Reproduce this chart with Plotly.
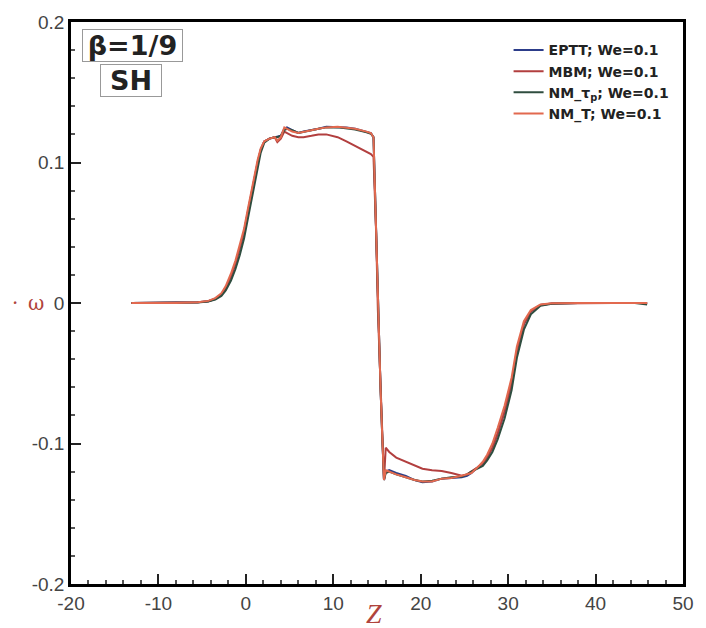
import plotly.graph_objects as go

# Axial coordinate Z (shared sample positions)
z = [-13.1, -8.0, -5.5, -4.3, -3.5, -2.8, -2.3, -1.7, -1.2, -0.7,
     -0.2, 0.2, 0.6, 1.0, 1.35, 1.7, 2.1, 2.7, 3.3, 3.6,
     4.0, 4.4, 4.7, 5.3, 6.0, 6.6, 7.5, 8.3, 9.2, 10.5,
     11.5, 12.5, 13.8, 14.3, 14.6, 14.9, 15.1, 15.4, 15.6, 15.8,
     16.0, 16.4, 17.2, 18.3, 19.3, 20.2, 21.3, 22.4, 23.5, 24.7,
     25.3, 25.8, 26.5, 27.1, 27.6, 28.2, 28.8, 29.6, 30.4, 31.0,
     31.8, 32.6, 33.7, 35.0, 38.0, 42.0, 44.5, 45.9]

eptt = [0.0, 0.0, 0.0005, 0.0012, 0.003, 0.006, 0.011, 0.019, 0.028, 0.039,
        0.051, 0.064, 0.077, 0.089, 0.100, 0.109, 0.115, 0.117, 0.118, 0.118,
        0.119, 0.124, 0.125, 0.123, 0.121, 0.122, 0.123, 0.124, 0.1255, 0.1255,
        0.125, 0.124, 0.122, 0.121, 0.118, 0.050, -0.005, -0.060, -0.095, -0.126,
        -0.120, -0.119, -0.121, -0.123, -0.126, -0.1275, -0.127, -0.125, -0.1245, -0.124,
        -0.123, -0.121, -0.117, -0.114, -0.110, -0.103, -0.093, -0.077, -0.057, -0.034,
        -0.015, -0.006, -0.0014, -0.0003, 0.0, 0.0, 0.0, 0.0]

mbm = [0.0, 0.0, 0.0005, 0.0012, 0.003, 0.006, 0.011, 0.019, 0.028, 0.039,
       0.051, 0.064, 0.077, 0.089, 0.100, 0.109, 0.115, 0.117, 0.118, 0.1145,
       0.117, 0.122, 0.121, 0.119, 0.118, 0.118, 0.119, 0.120, 0.120, 0.118,
       0.115, 0.112, 0.108, 0.106, 0.104, 0.050, -0.005, -0.060, -0.095, -0.126,
       -0.103, -0.106, -0.110, -0.113, -0.116, -0.118, -0.119, -0.1195, -0.121, -0.123,
       -0.122, -0.120, -0.117, -0.114, -0.110, -0.103, -0.093, -0.077, -0.057, -0.034,
       -0.015, -0.006, -0.0014, -0.0003, 0.0, 0.0, 0.0, 0.0]

nm_tau = [0.0, 0.0, 0.0004, 0.001, 0.0025, 0.005, 0.009, 0.016, 0.024, 0.034,
          0.046, 0.059, 0.072, 0.085, 0.097, 0.107, 0.114, 0.117, 0.118, 0.118,
          0.119, 0.123, 0.124, 0.123, 0.121, 0.122, 0.123, 0.124, 0.125, 0.125,
          0.1245, 0.1235, 0.1215, 0.1205, 0.118, 0.050, -0.005, -0.060, -0.095, -0.126,
          -0.121, -0.120, -0.122, -0.124, -0.126, -0.127, -0.1265, -0.125, -0.124, -0.1235,
          -0.122, -0.120, -0.118, -0.116, -0.112, -0.106, -0.097, -0.082, -0.062, -0.039,
          -0.019, -0.008, -0.002, -0.0005, 0.0, 0.0, 0.0, -0.001]

nm_t = [0.0, 0.0, 0.0006, 0.0015, 0.0035, 0.007, 0.012, 0.021, 0.030, 0.041,
        0.053, 0.066, 0.079, 0.091, 0.102, 0.110, 0.115, 0.117, 0.118, 0.1155,
        0.118, 0.125, 0.124, 0.122, 0.121, 0.122, 0.123, 0.124, 0.125, 0.1255,
        0.125, 0.124, 0.122, 0.121, 0.118, 0.050, -0.005, -0.060, -0.095, -0.126,
        -0.119, -0.120, -0.122, -0.124, -0.126, -0.127, -0.127, -0.125, -0.1245, -0.123,
        -0.122, -0.121, -0.117, -0.113, -0.108, -0.100, -0.089, -0.073, -0.053, -0.031,
        -0.013, -0.005, -0.001, -0.0002, 0.0, 0.0, 0.0, 0.0]

series_names = ["EPTT; We=0.1", "MBM; We=0.1", "NM_τ<sub>p</sub>; We=0.1", "NM_T; We=0.1"]
series_values = [eptt, mbm, nm_tau, nm_t]
series_colors = ["#2c3d8a", "#b23f3f", "#2f4d3f", "#e2694f"]

x_ticks = [-20, -10, 0, 10, 20, 30, 40, 50]
x_ticktext = ["-20", "-10", "0", "10", "20", "30", "40", "50"]
y_ticks = [-0.2, -0.1, 0, 0.1, 0.2]
y_ticktext = ["-0.2", "-0.1", "0", "0.1", "0.2"]

fig = go.Figure()
for name, vals, col in zip(series_names, series_values, series_colors):
    fig.add_trace(go.Scatter(x=z, y=vals, mode="lines", name="<b>" + name + "</b>",
                             line=dict(color=col, width=2)))

axis_common = dict(showline=True, linecolor="black", linewidth=2.5, mirror=True,
                   ticks="inside", ticklen=10, tickwidth=1.5, tickcolor="#222",
                   showgrid=False, zeroline=False,
                   tickfont=dict(family="Liberation Sans, Arial", size=19, color="#444"))

fig.update_xaxes(range=[-20, 50], tickvals=x_ticks, ticktext=x_ticktext,
                 minor=dict(ticks="inside", ticklen=4, dtick=2, tickcolor="#555"),
                 **axis_common)
fig.update_yaxes(range=[-0.2, 0.2], tickvals=y_ticks, ticktext=y_ticktext,
                 minor=dict(ticks="inside", ticklen=4, dtick=0.02, tickcolor="#555"),
                 **axis_common)

fig.update_layout(
    width=706, height=628,
    margin=dict(l=71, r=15, t=20, b=44),
    plot_bgcolor="white", paper_bgcolor="white",
    showlegend=True,
    legend=dict(x=0.715, y=0.978, xanchor="left", yanchor="top",
                bgcolor="rgba(255,255,255,0)", borderwidth=0,
                font=dict(family="DejaVu Sans, Verdana", size=14, color="#222"),
                tracegroupgap=0),
    annotations=[
        dict(text="<b>β=1/9</b>", xref="paper", yref="paper", x=0.0177, y=0.988,
             xanchor="left", yanchor="top", showarrow=False, width=99, height=31,
             font=dict(family="DejaVu Sans, Verdana", size=27, color="#222"),
             bordercolor="#999", borderwidth=1, borderpad=0, bgcolor="white"),
        dict(text="<b>SH</b>", xref="paper", yref="paper", x=0.0468, y=0.9255,
             xanchor="left", yanchor="top", showarrow=False, width=60, height=31,
             font=dict(family="DejaVu Sans, Verdana", size=27, color="#222"),
             bordercolor="#999", borderwidth=1, borderpad=0, bgcolor="white"),
        dict(text="ω", xref="paper", yref="paper", x=-0.058, y=0.5,
             xanchor="center", yanchor="middle", showarrow=False,
             font=dict(family="DejaVu Serif, Liberation Serif", size=20, color="#b0443c")),
        dict(text="·", xref="paper", yref="paper", x=-0.092, y=0.5,
             xanchor="center", yanchor="middle", showarrow=False,
             font=dict(family="DejaVu Serif, Liberation Serif", size=20, color="#b0443c")),
        dict(text="<i>Z</i>", xref="paper", yref="paper", x=0.495, y=-0.052,
             xanchor="center", yanchor="middle", showarrow=False,
             font=dict(family="Liberation Serif, DejaVu Serif", size=28, color="#b0443c")),
    ],
)

fig.write_html("out.html")
